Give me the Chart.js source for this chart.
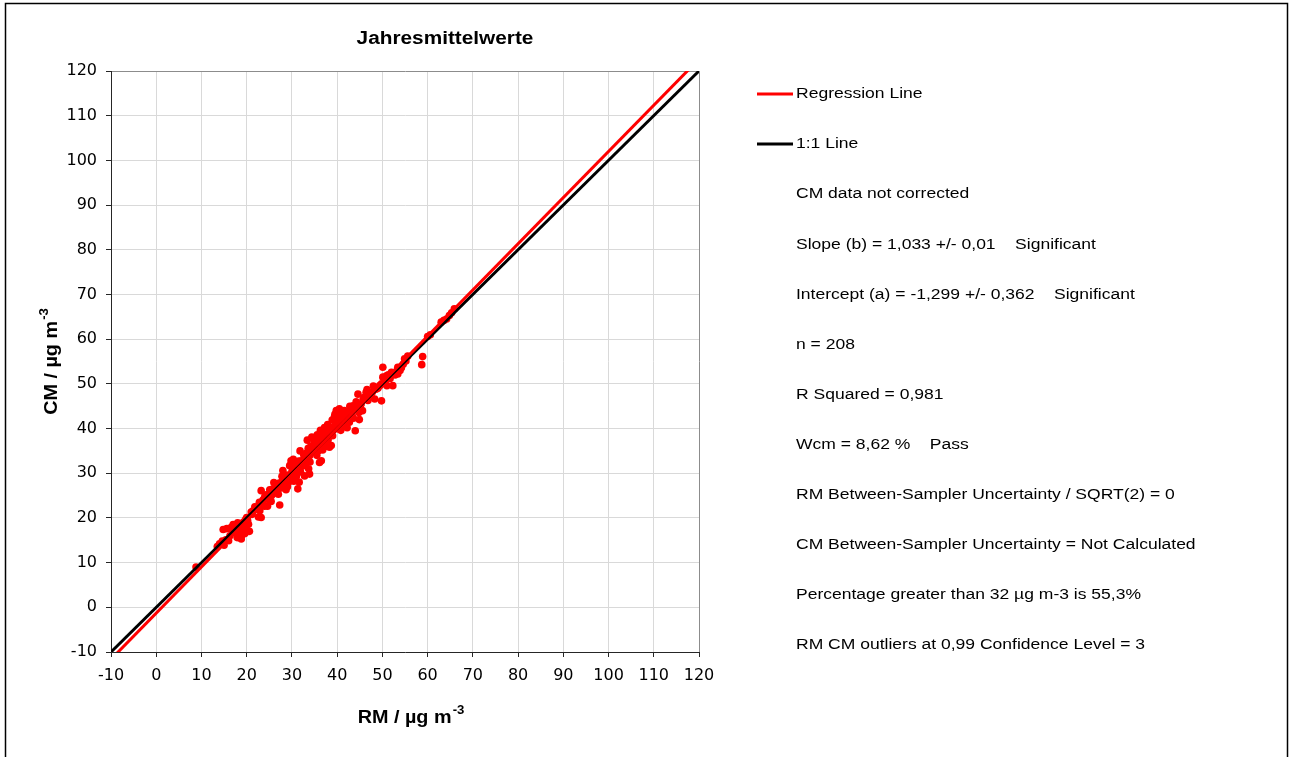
<!DOCTYPE html>
<html>
<head>
<meta charset="utf-8">
<title>Jahresmittelwerte</title>
<script src="https://cdn.jsdelivr.net/npm/chart.js@4/dist/chart.umd.min.js"></script>
<style>
  html, body { margin: 0; padding: 0; background: #fff; }
  canvas { display: block; }
</style>
</head>
<body>
<canvas id="chart" width="1296" height="757"></canvas>
<script>
// Annual means: reference method (RM) vs. candidate method (CM), µg m-3
const rmValues = [
  8.8, 13.5, 14.0, 14.6, 15.0, 15.4, 14.8, 15.6, 16.3, 16.6,
  17.2, 17.5, 17.9, 18.2, 18.5, 18.8, 19.0, 19.3, 19.6, 19.9,
  20.2, 18.0, 16.9, 19.5, 20.6, 19.0, 20.0, 21.0, 21.4, 21.8,
  22.1, 22.6, 23.2, 22.8, 23.2, 23.6, 24.0, 24.3, 24.8, 25.1,
  25.5, 25.8, 26.2, 26.5, 26.8, 27.3, 27.2, 27.6, 27.9, 28.2,
  28.5, 28.7, 28.0, 28.9, 29.2, 29.5, 29.8, 29.6, 30.0, 30.2,
  30.4, 30.6, 30.9, 31.3, 31.2, 31.6, 31.5, 31.9, 32.1, 32.4,
  32.8, 32.8, 33.0, 33.2, 33.4, 33.6, 33.9, 33.9, 34.2, 34.4,
  34.6, 34.9, 35.0, 35.3, 35.6, 35.8, 36.1, 36.0, 36.4, 36.5,
  36.7, 37.0, 37.3, 37.6, 37.9, 38.1, 38.3, 38.5, 38.7, 38.9,
  39.2, 39.4, 39.6, 39.8, 40.0, 40.2, 40.4, 40.6, 40.9, 41.1,
  41.3, 41.6, 41.8, 42.0, 42.3, 42.5, 42.7, 43.0, 43.3, 43.5,
  43.8, 44.0, 44.3, 44.6, 44.8, 45.0, 45.3, 45.7, 46.0, 46.4,
  46.8, 47.1, 47.5, 47.8, 48.3, 48.6, 49.0, 49.4, 49.8, 49.8,
  50.1, 50.1, 50.5, 50.9, 51.3, 51.7, 52.0, 52.3, 52.8, 53.4,
  53.4, 53.9, 54.2, 54.6, 54.9, 55.2, 55.6, 58.7, 58.9, 60.0,
  60.6, 63.0, 63.6, 64.2, 64.8, 65.3, 65.9,
  17.0, 18.3, 20.4, 21.2, 24.6, 26.0, 27.0, 29.0, 30.3, 31.0,
  32.6, 33.7, 34.8, 35.5, 36.8, 37.2, 38.0, 39.0, 39.5, 40.5,
  41.4, 42.2, 42.8, 43.6, 44.2, 45.6, 46.6, 48.0, 51.0, 25.4,
  22.9, 27.8, 31.8, 34.0, 37.5, 40.8, 16.0, 19.8, 23.9, 36.3, 44.9
];
const cmValues = [
  9.0, 13.6, 14.2, 14.8, 13.9, 15.1, 17.4, 17.6, 16.0, 17.9,
  17.2, 18.3, 15.6, 17.0, 18.7, 15.3, 17.8, 19.1, 16.5, 18.2,
  19.4, 18.9, 16.8, 17.2, 17.0, 16.2, 20.1, 21.3, 21.6, 22.5,
  22.4, 20.2, 20.1, 23.5, 26.1, 24.0, 24.8, 25.2, 24.1, 26.3,
  25.0, 26.5, 25.6, 27.2, 26.1, 22.9, 27.8, 26.7, 28.4, 27.3,
  28.9, 26.3, 30.6, 29.6, 27.9, 31.7, 32.8, 29.1, 30.4, 31.2,
  28.2, 32.3, 30.9, 26.5, 31.5, 28.0, 32.7, 30.3, 32.8, 31.6,
  29.4, 33.6, 32.2, 34.5, 37.4, 35.6, 29.8, 33.9, 36.1, 38.1,
  34.8, 35.5, 37.0, 36.4, 38.6, 35.0, 32.4, 37.8, 36.6, 32.8,
  38.9, 37.3, 39.4, 38.1, 40.9, 39.0, 35.8, 40.3, 36.2, 41.9,
  39.7, 42.6, 40.8, 44.0, 41.5, 43.1, 39.9, 42.2, 41.0, 43.6,
  42.6, 44.0, 40.6, 41.8, 43.4, 42.9, 41.4, 44.2, 43.0, 45.1,
  44.4, 39.5, 45.5, 47.7, 43.6, 44.9, 45.5, 46.4, 47.0, 48.1,
  46.3, 47.6, 47.3, 48.2, 46.6, 48.8, 49.0, 49.6, 50.0, 46.2,
  51.5, 53.7, 50.6, 51.8, 52.0, 51.2, 52.6, 49.6, 52.0, 52.2,
  53.7, 53.0, 53.6, 54.4, 55.6, 55.1, 56.2, 54.3, 56.1, 60.6,
  61.0, 63.8, 64.2, 64.5, 65.3, 65.9, 66.8,
  18.5, 16.4, 18.6, 20.8, 22.6, 27.9, 25.3, 27.0, 33.1, 29.4,
  34.2, 31.0, 37.9, 34.0, 35.2, 40.2, 37.5, 38.4, 43.2, 44.4,
  41.9, 40.2, 45.0, 42.3, 46.0, 44.0, 48.7, 49.5, 49.6, 23.7,
  21.6, 29.3, 35.0, 32.5, 36.0, 39.6, 14.9, 19.7, 22.6, 39.6, 42.0
];

// Regression result (CM = b * RM + a)
const SLOPE = 1.033;
const INTERCEPT = -1.299;

// Both axes share the same range and ticks
const axisTicks = [-10, 0, 10, 20, 30, 40, 50, 60, 70, 80, 90, 100, 110, 120];

const chartTitle = 'Jahresmittelwerte';
const xTitle = ['RM / µg m', '-3'];
const yTitle = ['CM / µg m', '-3'];

const statLines = [
  'CM data not corrected',
  'Slope (b) = 1,033 +/- 0,01    Significant',
  'Intercept (a) = -1,299 +/- 0,362    Significant',
  'n = 208',
  'R Squared = 0,981',
  'Wcm = 8,62 %    Pass',
  'RM Between-Sampler Uncertainty / SQRT(2) = 0',
  'CM Between-Sampler Uncertainty = Not Calculated',
  'Percentage greater than 32 µg m-3 is 55,3%',
  'RM CM outliers at 0,99 Confidence Level = 3'
];

const FONT = '"DejaVu Sans", "Liberation Sans", Arial, sans-serif';
const TEXT_FONT = '"Liberation Sans", Arial, sans-serif';

const points = rmValues.map((x, i) => ({ x: x, y: cmValues[i] }));
const xMin = axisTicks[0];
const xMax = axisTicks[axisTicks.length - 1];
const identityLine = [{ x: xMin, y: xMin }, { x: xMax, y: xMax }];
const regressionLine = [
  { x: xMin, y: SLOPE * xMin + INTERCEPT },
  { x: xMax, y: SLOPE * xMax + INTERCEPT }
];

// Bold unit title with a raised exponent, slightly widened like the other text
function drawUnitTitle(c, parts, cx, cy, rotate) {
  c.save();
  c.translate(cx, cy);
  if (rotate) c.rotate(-Math.PI / 2);
  c.scale(1.1, 1);
  c.fillStyle = '#000';
  c.textAlign = 'left';
  c.textBaseline = 'alphabetic';
  c.font = 'bold 18px ' + TEXT_FONT;
  const wBase = c.measureText(parts[0]).width;
  c.font = 'bold 12px ' + TEXT_FONT;
  const wSup = c.measureText(parts[1]).width;
  const x0 = -(wBase + wSup + 1) / 2;
  c.font = 'bold 18px ' + TEXT_FONT;
  c.fillText(parts[0], x0, 6.5);
  c.font = 'bold 12px ' + TEXT_FONT;
  c.fillText(parts[1], x0 + wBase + 1, -2);
  c.restore();
}

const decorations = {
  id: 'decorations',
  beforeDraw(chart) {
    const c = chart.ctx;
    c.save();
    c.fillStyle = '#fff';
    c.fillRect(0, 0, chart.width, chart.height);
    c.strokeStyle = '#000';
    c.lineWidth = 1.5;
    c.strokeRect(5.5, 3.5, 1282, 800);
    c.restore();
  },
  afterDraw(chart) {
    const c = chart.ctx;
    const area = chart.chartArea;

    // chart title
    c.save();
    c.translate(445, 39);
    c.scale(1.155, 1);
    c.fillStyle = '#000';
    c.font = 'bold 18px ' + TEXT_FONT;
    c.textAlign = 'center';
    c.textBaseline = 'middle';
    c.fillText(chartTitle, 0, 0);
    c.restore();

    // axis titles
    drawUnitTitle(c, xTitle, (area.left + area.right) / 2 + 6, 716, false);
    drawUnitTitle(c, yTitle, 50, (area.top + area.bottom) / 2, true);

    // legend with the regression statistics (text slightly widened)
    const ds = chart.data.datasets;
    const rows = [ds[2], ds[1]]
      .map(d => ({ text: d.label, color: d.borderColor }))
      .concat(statLines.map(t => ({ text: t })));
    rows.forEach((row, i) => {
      const y = 94 + i * 50.1;
      if (row.color) {
        c.save();
        c.strokeStyle = row.color;
        c.lineWidth = 3;
        c.beginPath();
        c.moveTo(757, y);
        c.lineTo(793, y);
        c.stroke();
        c.restore();
      }
      c.save();
      c.translate(796, y);
      c.scale(1.13, 1);
      c.font = '15.5px ' + TEXT_FONT;
      c.fillStyle = '#000';
      c.textAlign = 'left';
      c.textBaseline = 'middle';
      c.fillText(row.text, 0, 0);
      c.restore();
    });
  }
};

const gridColor = ctx => (ctx.tick && ctx.tick.value === xMax) ? '#8c8c8c' : '#d9d9d9';

function axisOptions(isX) {
  return {
    type: 'linear',
    min: xMin,
    max: xMax,
    afterBuildTicks: scale => { scale.ticks = axisTicks.map(v => ({ value: v })); },
    afterFit: scale => {
      if (isX) scale.height = 60; else scale.width = 101;
    },
    grid: {
      color: gridColor,
      lineWidth: 1,
      drawTicks: true,
      tickLength: 5,
      tickColor: '#262626',
      tickWidth: 1
    },
    border: { display: true, color: '#262626', width: 1 },
    ticks: {
      color: '#000',
      font: { family: FONT, size: 16 },
      padding: 9,
      maxRotation: 0,
      autoSkip: false
    },
    title: { display: false }
  };
}

new Chart(document.getElementById('chart'), {
  type: 'scatter',
  data: {
    datasets: [
      {
        label: 'Jahresmittelwerte',
        data: points,
        backgroundColor: '#ff0000',
        borderColor: '#ff0000',
        borderWidth: 0,
        pointRadius: 3.8,
        pointHoverRadius: 3.8,
        order: 3
      },
      {
        label: '1:1 Line',
        data: identityLine,
        showLine: true,
        borderColor: '#000000',
        borderWidth: 3,
        pointRadius: 0,
        clip: 0,
        order: 2
      },
      {
        label: 'Regression Line',
        data: regressionLine,
        showLine: true,
        borderColor: '#ff0000',
        borderWidth: 3,
        pointRadius: 0,
        clip: 0,
        order: 1
      }
    ]
  },
  options: {
    responsive: false,
    animation: false,
    devicePixelRatio: 1,
    events: [],
    layout: { padding: { left: 10, top: 71, right: 597, bottom: 45 } },
    plugins: {
      legend: { display: false },
      title: { display: false },
      tooltip: { enabled: false }
    },
    scales: {
      x: axisOptions(true),
      y: axisOptions(false)
    }
  },
  plugins: [decorations]
});
</script>
</body>
</html>
